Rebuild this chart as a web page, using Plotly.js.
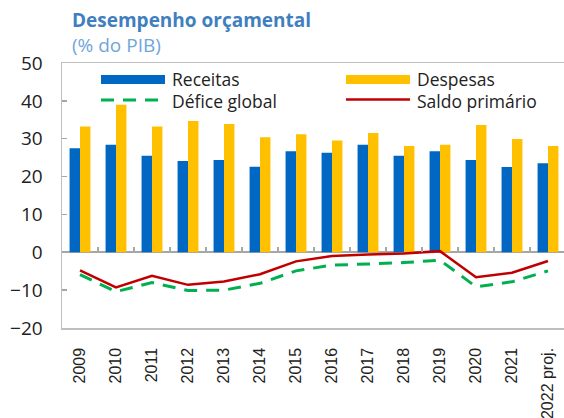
<!DOCTYPE html>
<html>
<head>
<meta charset="utf-8">
<script src="https://cdn.plot.ly/plotly-3.0.1.min.js"></script>
<style>
html,body{margin:0;padding:0;overflow:hidden;background:#fff;width:564px;height:418px;}
#chart{width:566px;height:418px;}
</style>
</head>
<body>
<div id="chart"></div>
<script>
var years = ["2009","2010","2011","2012","2013","2014","2015","2016","2017","2018","2019","2020","2021","2022 proj."];
var receitas = [27.5, 28.4, 25.5, 24.1, 24.4, 22.6, 26.7, 26.3, 28.4, 25.5, 26.7, 24.4, 22.5, 23.5];
var despesas = [33.2, 39.0, 33.2, 34.7, 33.9, 30.4, 31.2, 29.5, 31.5, 28.1, 28.4, 33.6, 29.9, 28.1];
var deficeGlobal = [-5.9, -10.4, -8.0, -10.1, -10.0, -8.2, -4.9, -3.4, -3.1, -2.7, -2.1, -9.1, -7.8, -4.9];
var saldoPrimario = [-4.8, -9.3, -6.2, -8.6, -7.7, -5.8, -2.4, -1.0, -0.6, -0.3, 0.3, -6.6, -5.4, -2.3];
var seriesNames = ["Receitas", "Despesas", "Défice global", "Saldo primário"];

var cBlue = "#0068C2", cYellow = "#FFC000", cGreen = "#00B050", cRed = "#C00000";
var font = "'Open Sans', 'Noto Sans', sans-serif";

var traces = [
  {type:"bar", name:seriesNames[0], x:years, y:receitas, marker:{color:cBlue}},
  {type:"bar", name:seriesNames[1], x:years, y:despesas, marker:{color:cYellow}},
  {type:"scatter", mode:"lines", name:seriesNames[2], x:years, y:deficeGlobal, xaxis:"x2",
   line:{color:cGreen, width:3, dash:"13px,9px"}},
  {type:"scatter", mode:"lines", name:seriesNames[3], x:years, y:saldoPrimario, xaxis:"x2",
   line:{color:cRed, width:2.5}}
];

var W = 504, H = 265, L = 62, T = 63;
function px(x){ return (x - L)/W; }
function py(y){ return (T + H - y)/H; }

var shapes = [
  {type:"rect", xref:"paper", yref:"paper", x0:px(101), x1:px(165), y0:py(84), y1:py(75), fillcolor:cBlue, line:{width:0}},
  {type:"rect", xref:"paper", yref:"paper", x0:px(346), x1:px(410), y0:py(84), y1:py(75), fillcolor:cYellow, line:{width:0}},
  {type:"line", xref:"paper", yref:"paper", x0:px(101), x1:px(167), y0:py(100), y1:py(100), line:{color:cGreen, width:3, dash:"13px,9px"}},
  {type:"line", xref:"paper", yref:"paper", x0:px(346), x1:px(410), y0:py(99.5), y1:py(99.5), line:{color:cRed, width:2.5}}
];

var legFont = {family:font, size:17.5, color:"#222"};
var annotations = [
  {xref:"paper", yref:"paper", x:px(171), y:py(79), xanchor:"left", yanchor:"middle", text:seriesNames[0], showarrow:false, font:legFont, borderpad:0},
  {xref:"paper", yref:"paper", x:px(416), y:py(79), xanchor:"left", yanchor:"middle", text:seriesNames[1], showarrow:false, font:legFont, borderpad:0},
  {xref:"paper", yref:"paper", x:px(171), y:py(100.5), xanchor:"left", yanchor:"middle", text:seriesNames[2], showarrow:false, font:legFont, borderpad:0},
  {xref:"paper", yref:"paper", x:px(416), y:py(100.5), xanchor:"left", yanchor:"middle", text:seriesNames[3], showarrow:false, font:legFont, borderpad:0},
  {xref:"paper", yref:"paper", x:px(70), y:py(20), xanchor:"left", yanchor:"middle", text:"<b>Desempenho orçamental</b>", showarrow:false, font:{family:font, size:19, color:"#3F7FBF"}},
  {xref:"paper", yref:"paper", x:px(70), y:py(45), xanchor:"left", yanchor:"middle", text:"(% do PIB)", showarrow:false, font:{family:font, size:19, color:"#6FA6DA"}}
];

var layout = {
  width:566, height:418,
  margin:{l:L, r:0, t:T, b:418-T-H, pad:0},
  paper_bgcolor:"#fff", plot_bgcolor:"#fff",
  showlegend:false,
  barmode:"group", bargap:0.42, bargroupgap:0,
  font:{family:font, color:"#222"},
  xaxis:{type:"category", range:[-0.5,13.5], showline:true, mirror:true, linecolor:"#BFBFBF", linewidth:1.5,
         ticks:"", tickangle:-90, showgrid:false, zeroline:false, ticklabelstandoff:12,
         tickfont:{family:"'Liberation Sans', Arial, sans-serif", size:16, color:"#222"}},
  xaxis2:{type:"category", overlaying:"x", anchor:"free", position:2/7, range:[-0.5,13.5],
          ticks:"inside", tickson:"boundaries", ticklen:5, tickwidth:1.5, tickcolor:"#A6A6A6",
          showticklabels:false, showgrid:false, zeroline:false, showline:false},
  yaxis:{range:[-20,50], dtick:10, tick0:0, showline:true, mirror:true, linecolor:"#BFBFBF", linewidth:1.5,
         ticks:"inside", ticklen:5, tickwidth:1.5, tickcolor:"#A6A6A6", showgrid:false,
         zeroline:true, zerolinecolor:"#A6A6A6", zerolinewidth:2, ticklabelstandoff:14,
         tickfont:{family:font, size:19, color:"#222"}},
  shapes:shapes,
  annotations:annotations
};

Plotly.newPlot("chart", traces, layout, {displayModeBar:false, staticPlot:true});
</script>
</body>
</html>
